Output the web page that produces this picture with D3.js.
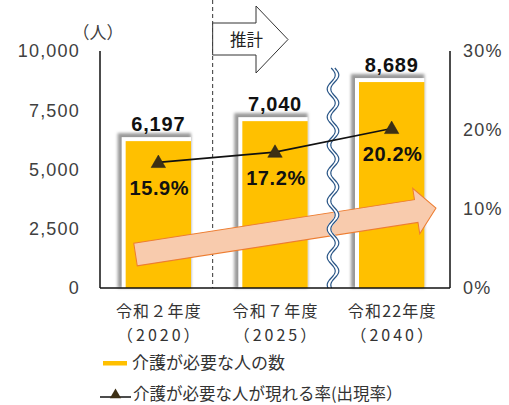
<!DOCTYPE html>
<html>
<head>
<meta charset="utf-8">
<script src="https://cdn.jsdelivr.net/npm/d3@7"></script>
<style>
  html, body { margin: 0; padding: 0; background: #fff; }
  svg { display: block; }
</style>
</head>
<body>
<div id="chart"></div>
<script>
// ---- data ----
const categories = ["令和２年度", "令和７年度", "令和22年度"];
const years = ["（2020）", "（2025）", "（2040）"];
const careCounts = [6197, 7040, 8689];
const careRates = [15.9, 17.2, 20.2];
const leftTicks = [0, 2500, 5000, 7500, 10000];
const rightTicks = [0, 10, 20, 30];
const legendLabels = ["介護が必要な人の数", "介護が必要な人が現れる率(出現率）"];
const unitLabel = "（人）";
const forecastLabel = "推計";

// ---- layout ----
const W = 509, H = 405;
const plot = { left: 100, right: 450, top: 51, bottom: 288 };
const numFont = "'Liberation Sans', Arial, sans-serif";
const jpFont = "'Noto Sans CJK JP', 'Noto Sans', sans-serif";

const svg = d3.select("#chart").append("svg")
  .attr("width", W).attr("height", H);

const defs = svg.append("defs");
defs.append("filter").attr("id", "soft")
  .attr("x", "-20%").attr("y", "-20%").attr("width", "140%").attr("height", "140%")
  .append("feGaussianBlur").attr("stdDeviation", 1.6);

const x = d3.scaleBand().domain(categories)
  .range([plot.left, plot.right]).paddingInner(0.44).paddingOuter(0.22);
const y = d3.scaleLinear().domain([0, 10000]).range([plot.bottom, plot.top]);
const yR = d3.scaleLinear().domain([0, 30]).range([plot.bottom, plot.top]);

// ---- bars with soft frame ----
const bars = svg.append("g");
const bw = x.bandwidth();
categories.forEach((c, i) => {
  const bx = x(c), by = y(careCounts[i]), bh = plot.bottom - by;
  bars.append("rect").attr("x", bx - 8).attr("y", by - 8)
    .attr("width", bw + 8).attr("height", bh + 8)
    .attr("fill", "#999").attr("filter", "url(#soft)");
  bars.append("rect").attr("x", bx - 4).attr("y", by - 4)
    .attr("width", bw + 4).attr("height", bh + 4).attr("fill", "#fff");
  bars.append("rect").attr("x", bx).attr("y", by)
    .attr("width", bw).attr("height", bh).attr("fill", "#FFC000");
  svg.append("text").attr("x", bx + bw / 2).attr("y", by - 10)
    .attr("text-anchor", "middle").attr("font-family", numFont)
    .attr("font-weight", "bold").attr("font-size", 20)
    .attr("letter-spacing", 0.8).attr("fill", "#111")
    .text(d3.format(",")(careCounts[i]));
});

// ---- forecast divider ----
const divX = (x(categories[0]) + bw + x(categories[1])) / 2 - 4;
svg.append("line").attr("x1", divX).attr("x2", divX)
  .attr("y1", 0).attr("y2", plot.bottom)
  .attr("stroke", "#333").attr("stroke-width", 1)
  .attr("stroke-dasharray", "4,3");

// forecast arrow box
const fa = { x0: divX, x1: 256, x2: 288, yt: 23, yb: 55, ht: 6, hb: 73 };
svg.append("path")
  .attr("d", `M${fa.x0},${fa.yt}L${fa.x1},${fa.yt}L${fa.x1},${fa.ht}L${fa.x2},${(fa.ht + fa.hb) / 2}` +
    `L${fa.x1},${fa.hb}L${fa.x1},${fa.yb}L${fa.x0},${fa.yb}Z`)
  .attr("fill", "#fff").attr("stroke", "#333").attr("stroke-width", 1);
svg.append("text").attr("x", 230).attr("y", (fa.yt + fa.yb) / 2 + 7)
  .attr("font-family", jpFont).attr("font-size", 16.5).attr("fill", "#222")
  .text(forecastLabel);

// ---- growth arrow ----
const tail = [135.5, 254.5], tip = [436, 208];
const ang = Math.atan2(tip[1] - tail[1], tip[0] - tail[0]);
const len = Math.hypot(tip[0] - tail[0], tip[1] - tail[1]);
const bodyHalf = 11.5, headHalf = 23, headLen = 20;
svg.append("path")
  .attr("transform", `translate(${tail[0]},${tail[1]}) rotate(${ang * 180 / Math.PI})`)
  .attr("d", `M0,${-bodyHalf}L${len - headLen},${-bodyHalf}L${len - headLen},${-headHalf}L${len},0` +
    `L${len - headLen},${headHalf}L${len - headLen},${bodyHalf}L0,${bodyHalf}Z`)
  .attr("fill", "#F8CBAD").attr("stroke", "#ED7D31").attr("stroke-width", 1);

// ---- axis break (double wavy line) ----
const waveX = 333, waveTop = 68, wavePeriod = 28, waveAmp = 4;
const wavePts = d3.range(waveTop, plot.bottom + 1, 1).map(v =>
  [waveAmp * Math.sin((v - waveTop) / wavePeriod * 2 * Math.PI), v]);
const wave = d3.line().x(d => waveX + d[0]).y(d => d[1]);
svg.append("path").attr("d", wave(wavePts)).attr("fill", "none")
  .attr("stroke", "#fff").attr("stroke-width", 4.5);
[-1.8, 1.8].forEach(off => {
  svg.append("path").attr("d", wave(wavePts)).attr("transform", `translate(${off},0)`)
    .attr("fill", "none").attr("stroke", "#2A5687").attr("stroke-width", 1.2);
});

// ---- rate line ----
const cx = c => x(c) + bw / 2;
svg.append("path")
  .datum(careRates)
  .attr("d", d3.line().x((d, i) => cx(categories[i])).y(d => yR(d)))
  .attr("fill", "none").attr("stroke", "#111").attr("stroke-width", 1.6);
careRates.forEach((r, i) => {
  svg.append("path")
    .attr("d", d3.symbol(d3.symbolTriangle, 90)())
    .attr("transform", `translate(${cx(categories[i])},${yR(r) + 1})`)
    .attr("fill", "#3D3014").attr("stroke", "#222").attr("stroke-width", 0.5);
  svg.append("text").attr("x", cx(categories[i]) + 1).attr("y", yR(r) + 33)
    .attr("text-anchor", "middle").attr("font-family", numFont)
    .attr("font-weight", "bold").attr("font-size", 20).attr("letter-spacing", 0.6)
    .attr("fill", "#111").text(r.toFixed(1) + "%");
});

// ---- axes ----
const axisG = svg.append("g").attr("stroke", "#111").attr("stroke-width", 1.5);
axisG.append("line").attr("x1", plot.left).attr("x2", plot.left)
  .attr("y1", plot.top).attr("y2", plot.bottom);
axisG.append("line").attr("x1", plot.right).attr("x2", plot.right)
  .attr("y1", plot.top).attr("y2", plot.bottom);
axisG.append("line").attr("x1", plot.left).attr("x2", plot.right)
  .attr("y1", plot.bottom).attr("y2", plot.bottom);

const leftAxis = svg.append("g").attr("transform", `translate(${plot.left},0)`)
  .call(d3.axisLeft(y).tickValues(leftTicks).tickSize(0).tickPadding(20)
    .tickFormat(d3.format(",")));
const rightAxis = svg.append("g").attr("transform", `translate(${plot.right},0)`)
  .call(d3.axisRight(yR).tickValues(rightTicks).tickSize(0).tickPadding(13)
    .tickFormat(d => d + "%"));
[leftAxis, rightAxis].forEach(g => {
  g.select(".domain").remove();
  g.selectAll("text").attr("font-family", numFont).attr("font-size", 18)
    .attr("letter-spacing", 1.2).attr("fill", "#404040");
});

svg.append("text").attr("x", 98).attr("y", 39).attr("text-anchor", "middle")
  .attr("font-family", jpFont).attr("font-size", 17).attr("fill", "#404040")
  .text(unitLabel);

// category labels: two lines per category
const catAxis = svg.append("g");
categories.forEach((c, i) => {
  catAxis.append("text").attr("x", cx(c) + 0.6).attr("y", 316.5)
    .attr("text-anchor", "middle").attr("font-family", jpFont)
    .attr("font-size", 16).attr("letter-spacing", 1.2).attr("fill", "#333").text(c);
  catAxis.append("text").attr("x", cx(c) + 1.5).attr("y", 340.5)
    .attr("text-anchor", "middle").attr("font-family", jpFont)
    .attr("font-size", 16).attr("letter-spacing", 3).attr("fill", "#333").text(years[i]);
});

// ---- legend ----
const lg = svg.append("g");
lg.append("rect").attr("x", 103).attr("y", 361).attr("width", 24).attr("height", 4.5)
  .attr("fill", "#FFC000");
lg.append("text").attr("x", 132).attr("y", 369).attr("font-family", jpFont)
  .attr("font-size", 17).attr("fill", "#333").text(legendLabels[0]);
lg.append("line").attr("x1", 100).attr("x2", 131).attr("y1", 397).attr("y2", 397)
  .attr("stroke", "#111").attr("stroke-width", 1.5);
lg.append("path").attr("d", d3.symbol(d3.symbolTriangle, 55)())
  .attr("transform", "translate(115.5,395)").attr("fill", "#3D3014");
lg.append("text").attr("x", 133).attr("y", 399.5).attr("font-family", jpFont)
  .attr("font-size", 16.5).attr("fill", "#333").text(legendLabels[1]);
</script>
</body>
</html>
